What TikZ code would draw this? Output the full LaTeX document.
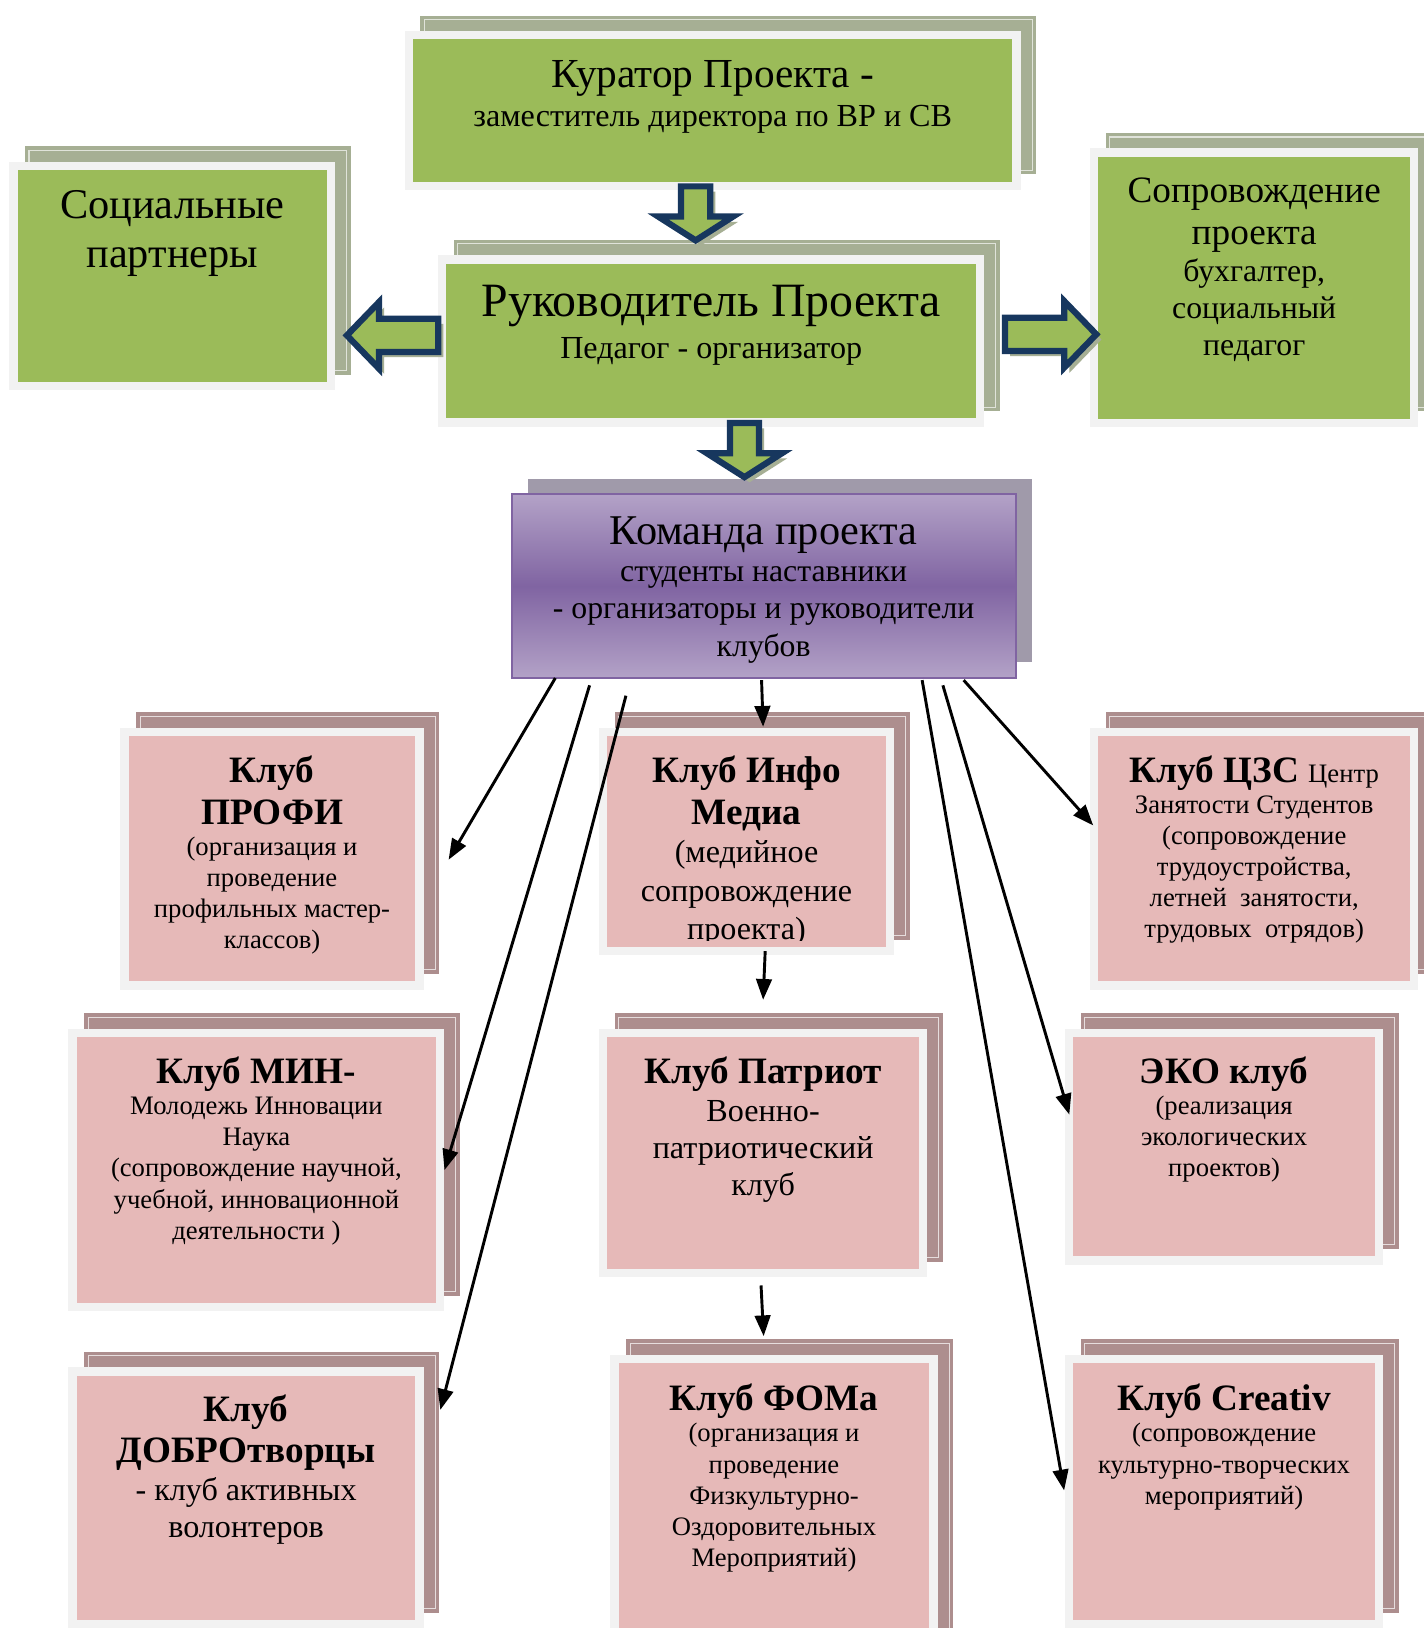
\documentclass[tikz,border=0pt]{standalone}
\usepackage{fontspec}
\setmainfont{Liberation Serif}
\usetikzlibrary{calc}
\usetikzlibrary{positioning}
\usetikzlibrary{arrows.meta}
\usetikzlibrary{shapes.arrows}
\usetikzlibrary{shadows}
\usepackage{xcolor}

\definecolor{leafgreen}{HTML}{9BBB59}
\definecolor{greenback}{HTML}{A6AF94}
\definecolor{framegray}{HTML}{F2F2F2}
\definecolor{clubpink}{HTML}{E6B9B8}
\definecolor{pinkback}{HTML}{AD8E8E}
\definecolor{teamlight}{HTML}{B3A2C7}
\definecolor{teamdark}{HTML}{8064A2}
\definecolor{teamback}{HTML}{A09AAA}
\definecolor{navyline}{HTML}{17375E}

\newcommand{\setfs}[2]{\fontsize{#1}{#2}\selectfont}
\newcommand{\clubtitle}{\bfseries\setfs{10.2}{11.4}}
\newcommand{\clubsmall}{\mdseries\setfs{7.3}{8.5}}
\newcommand{\clubmid}{\mdseries\setfs{8.8}{10.2}}

\tikzset{
  framed/.style={draw=framegray, line width=0.08cm, inner sep=0pt, outer sep=0pt},
  greenbox/.style={framed, fill=leafgreen,
    general shadow={shadow xshift=0.15cm, shadow yshift=0.15cm,
      fill=greenback, draw=greenback, line width=0.035cm,
      double=greenback!35!white, double distance=0.01cm}},
  clubbox/.style={framed, fill=clubpink,
    general shadow={shadow xshift=0.15cm, shadow yshift=0.15cm,
      fill=pinkback, draw=pinkback, line width=0.035cm,
      double=pinkback!30!white, double distance=0.01cm}},
  teambox/.style={draw=teamdark, line width=0.02cm, inner sep=0pt, outer sep=0pt,
    top color=teamlight, bottom color=teamlight, middle color=teamdark,
    general shadow={shadow xshift=0.16cm, shadow yshift=0.15cm, fill=teamback}},
  boxtext/.style={inner sep=0pt, text width=#1, align=flush center},
  boxtext/.default=3.4cm,
  blockarrow/.style={single arrow, draw=navyline, fill=leafgreen, line width=0.06cm,
    inner sep=0.11cm, single arrow head extend=0.22cm, minimum height=0.52cm,
    single arrow tip angle=115,
    general shadow={shadow xshift=0.05cm, shadow yshift=-0.05cm, fill=greenback}},
  sidearrow/.style={blockarrow, inner sep=0.13cm, single arrow head extend=0.16cm,
    single arrow tip angle=92, minimum height=0.88cm},
  link/.style={line width=0.8pt, -{Triangle[length=0.2cm,width=0.15cm]}},
}

\begin{document}
\begin{tikzpicture}[x=0.01cm, y=-0.01cm]
\fill[white] (0,0) rectangle (1371,1568);
\useasboundingbox (0,0) rectangle (1371,1568);

% green boxes
\node[greenbox, minimum width=5.85cm, minimum height=1.45cm] (kur) at (686.5,106.5) {};
\node[greenbox, minimum width=5.18cm, minimum height=1.57cm] (ruk) at (685,328.5) {};
\node[greenbox, minimum width=3.06cm, minimum height=2.12cm] (soc) at (166,266) {};
\node[greenbox, minimum width=3.08cm, minimum height=2.60cm] (sop) at (1208,277) {};

\node[boxtext=5.7cm, below=0.24cm of kur.north] (kur-t)
  {\setfs{11.3}{12}Куратор Проекта -\par
   \setfs{8.8}{10.5}заместитель директора по ВР и СВ\par};
\node[boxtext=5.1cm, below=0.24cm of ruk.north] (ruk-t)
  {\setfs{13.1}{14}Руководитель Проекта\par
   \setfs{8.8}{11.4}Педагог - организатор\par};
\node[boxtext=3cm, below=0.23cm of soc.north] (soc-t)
  {\setfs{11.6}{13.4}Социальные\\партнеры\par};
\node[boxtext=3cm, below=0.236cm of sop.north] (sop-t)
  {\setfs{10.2}{11.4}Сопровождение\\проекта\par
   \setfs{8.7}{10.2}бухгалтер,\\социальный\\педагог\par};

% team
\node[teambox, minimum width=4.85cm, minimum height=1.77cm] (kom) at (735.5,564.5) {};
\node[boxtext=4.8cm, below=0.21cm of kom.north] (kom-t)
  {\setfs{11.6}{12}Команда проекта\par
   \setfs{8.7}{10.2}студенты наставники\\- организаторы и руководители\\клубов\par};

% clubs
\node[clubbox, minimum width=2.84cm, minimum height=2.44cm] (profi) at (262,827) {};
\node[clubbox, minimum width=2.76cm, minimum height=2.11cm] (info) at (719,810.5) {};
\node[clubbox, minimum width=3.08cm, minimum height=2.44cm] (czs) at (1208,827) {};
\node[clubbox, minimum width=3.54cm, minimum height=2.64cm] (min) at (247,1127) {};
\node[clubbox, minimum width=3.08cm, minimum height=2.31cm] (patr) at (735,1110.5) {};
\node[clubbox, minimum width=2.98cm, minimum height=2.19cm] (eko) at (1179,1104.5) {};
\node[clubbox, minimum width=3.34cm, minimum height=2.43cm] (dobro) at (237,1442.5) {};
\node[clubbox, minimum width=3.07cm, minimum height=2.75cm] (foma) at (745.5,1446.5) {};
\node[clubbox, minimum width=2.98cm, minimum height=2.55cm] (creat) at (1179,1436.5) {};

\node[boxtext, below=0.226cm of profi.north] (profi-t)
  {\clubtitle Клуб\\ПРОФИ\par
   \clubsmall (организация и\\проведение\\профильных мастер-\\классов)\par};
\begin{scope}
\clip ([xshift=0.04cm,yshift=-0.04cm]info.north west) rectangle ([xshift=-0.04cm,yshift=0.1cm]info.south east);
\node[boxtext, below=0.226cm of info.north] (info-t)
  {\clubtitle Клуб Инфо\\Медиа\par
   \mdseries\setfs{8.8}{10.5}(медийное\\сопровождение\\проекта)\par};
\end{scope}
\node[boxtext, below=0.226cm of czs.north] (czs-t)
  {{\clubtitle Клуб ЦЗС} \clubsmall Центр\par
   Занятости Студентов\\(сопровождение\\трудоустройства,\\летней~ занятости,\\трудовых~ отрядов)\par};
\node[boxtext, below=0.226cm of min.north] (min-t)
  {\clubtitle Клуб МИН-\par
   \clubsmall Молодежь Инновации\\Наука\\(сопровождение научной,\\учебной, инновационной\\деятельности )\par};
\node[boxtext, below=0.226cm of patr.north] (patr-t)
  {\clubtitle Клуб Патриот\par
   \clubmid Военно-\\патриотический\\клуб\par};
\node[boxtext, below=0.226cm of eko.north] (eko-t)
  {\clubtitle ЭКО клуб\par
   \clubsmall (реализация\\экологических\\проектов)\par};
\node[boxtext, below=0.216cm of dobro.north] (dobro-t)
  {\clubtitle Клуб\\ДОБРОтворцы\par
   \clubmid - клуб активных\\волонтеров\par};
\node[boxtext, below=0.236cm of foma.north] (foma-t)
  {\clubtitle Клуб ФОМа\par
   \clubsmall (организация и\\проведение\\Физкультурно-\\Оздоровительных\\Мероприятий)\par};
\node[boxtext, below=0.236cm of creat.north] (creat-t)
  {\clubtitle Клуб Creativ\par
   \clubsmall (сопровождение\\культурно-творческих\\мероприятий)\par};

% block arrows
\node[blockarrow, shape border rotate=270] (ar-kur) at ($(kur.south)+(-16.5,22)$) {};
\node[blockarrow, shape border rotate=270] (ar-ruk) at ($(ruk.south)+(32,22)$) {};
\node[sidearrow, shape border rotate=180] (ar-soc) at ($(ruk.west)+(-40,-5.5)$) {};
\node[sidearrow] (ar-sop) at ($(ruk.east)+(60,-6.5)$) {};

% thin arrows
\draw[link] ($(kom.south west)+(42,0)$) -- ($(profi.east)+(28,1)$);
\draw[link] ($(kom.south west)+(75,7)$) -- ($(min.east)+(4,0)$);
\draw[link] ($(kom.south west)+(110,17)$) -- ($(dobro.north east)+(20,37)$);
\draw[link] ($(kom.south)+(-2,2)$) -- ($(info.north)+(16,-5)$);
\draw[link] ($(kom.south east)+(-90,2)$) -- ($(creat.west)+(-5,-1)$);
\draw[link] ($(kom.south east)+(-70,7)$) -- ($(eko.west)+(0,-31)$);
\draw[link] ($(kom.south east)+(-50,2)$) -- ($(czs.west)+(-1,-32)$);
\draw[link] ($(info.south)+(18,0)$) -- ($(patr.north)+(0,-32)$);
\draw[link] ($(patr.south)+(-2,12)$) -- ($(foma.north)+(-10,-22)$);
\end{tikzpicture}
\end{document}
